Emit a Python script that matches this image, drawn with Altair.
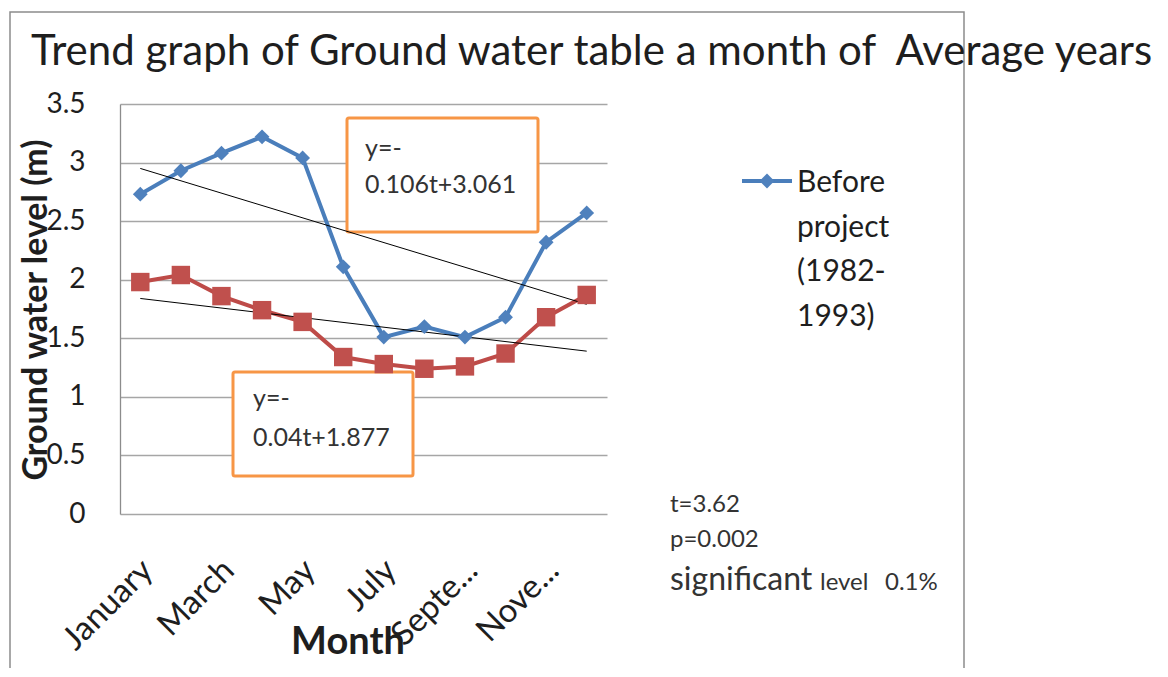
import altair as alt
import pandas as pd

# ---------------- data ----------------
months = ["January", "February", "March", "April", "May", "June",
          "July", "August", "September", "October", "November", "December"]
tick_labels = ["January", "", "March", "", "May", "", "July", "", "Septe...", "", "Nove...", ""]
before = [2.73, 2.93, 3.08, 3.22, 3.04, 2.11, 1.51, 1.60, 1.51, 1.68, 2.32, 2.57]
after = [1.98, 2.04, 1.86, 1.74, 1.64, 1.34, 1.28, 1.24, 1.26, 1.37, 1.68, 1.87]
trend_months = ["January", "December"]
trend_before = [2.95, 1.79]
trend_after = [1.84, 1.39]
y_ticks = [0, 0.5, 1, 1.5, 2, 2.5, 3, 3.5]

title_text = "Trend graph of Ground water table a month of \u00a0Average years"
legend_lines = ["Before", "project", "(1982-", "1993)"]
eq_before = ["y=-", "0.106t+3.061"]
eq_after = ["y=-", "0.04t+1.877"]
stats = ["t=3.62", "p=0.002"]
sig_main, sig_level, sig_value = "significant", "level", "0.1%"

FONT = "Lato"
BLUE_LINE, BLUE_MARK = "#4A7EBB", "#4F81BD"
RED_LINE, RED_MARK = "#BE4B48", "#C0504D"
ORANGE = "#F79646"
TXT = "#1e1e1e"

W, H = 487, 410

blue_df = pd.DataFrame({"month": months, "value": before})
red_df = pd.DataFrame({"month": months, "value": after})
tb_df = pd.DataFrame({"month": trend_months, "value": trend_before})
ta_df = pd.DataFrame({"month": trend_months, "value": trend_after})

label_expr = " : ".join(
    f"datum.value == '{m}' ? '{l}'" for m, l in zip(months, tick_labels)
) + " : ''"

x_enc = alt.X(
    "month:N",
    sort=months,
    scale=alt.Scale(type="point", domain=months, padding=0.5),
    axis=alt.Axis(
        title=None, domain=False, ticks=False, grid=False,
        labelAngle=-45, labelAlign="right", labelBaseline="middle",
        labelPadding=51, labelOffset=7, labelFont=FONT, labelFontSize=33,
        labelColor=TXT, labelExpr=label_expr, labelOverlap=False,
    ),
)
y_enc = alt.Y(
    "value:Q",
    scale=alt.Scale(domain=[0, 3.5], nice=False, zero=True),
    axis=alt.Axis(
        title=None, values=y_ticks, format="~g", grid=True,
        gridColor="#a6a6a6", gridWidth=1.3, domain=True, domainColor="#8c8c8c",
        domainWidth=1.3, ticks=False, labelPadding=35, labelFont=FONT,
        labelFontSize=28, labelColor=TXT,
    ),
)

one = pd.DataFrame({"k": [0]})


def txt(text, x, y, size, align="left", baseline="alphabetic", bold=False,
        angle=0, line_height=None, color=TXT):
    kw = dict(font=FONT, fontSize=size, align=align, baseline=baseline,
              color=color, fontWeight="bold" if bold else "normal")
    if angle:
        kw["angle"] = angle
    if line_height:
        kw["lineHeight"] = line_height
    return alt.Chart(one).mark_text(**kw).encode(
        x=alt.value(x), y=alt.value(y), text=alt.value(text)
    )


# frame around the whole chart
frame = alt.Chart(one).mark_rect(
    fillOpacity=0, stroke="#8c8c8c", strokeWidth=1.5
).encode(x=alt.value(-110), x2=alt.value(844), y=alt.value(-92), y2=alt.value(640))

# equation boxes
box1 = alt.Chart(one).mark_rect(
    fill="white", stroke=ORANGE, strokeWidth=3, cornerRadius=2
).encode(x=alt.value(227), x2=alt.value(418), y=alt.value(14), y2=alt.value(128))
box2 = alt.Chart(one).mark_rect(
    fill="white", stroke=ORANGE, strokeWidth=3, cornerRadius=2
).encode(x=alt.value(113), x2=alt.value(293), y=alt.value(268), y2=alt.value(372))

blue_line = alt.Chart(blue_df).mark_line(color=BLUE_LINE, strokeWidth=4).encode(x=x_enc, y=y_enc)
blue_pts = alt.Chart(blue_df).mark_point(
    shape="diamond", filled=True, size=220, color=BLUE_MARK, opacity=1
).encode(x=x_enc, y=y_enc)
red_line = alt.Chart(red_df).mark_line(color=RED_LINE, strokeWidth=4).encode(x=x_enc, y=y_enc)
red_pts = alt.Chart(red_df).mark_point(
    shape="square", filled=True, size=340, color=RED_MARK, opacity=1
).encode(x=x_enc, y=y_enc)
tb_line = alt.Chart(tb_df).mark_line(color="black", strokeWidth=1).encode(x=x_enc, y=y_enc)
ta_line = alt.Chart(ta_df).mark_line(color="black", strokeWidth=1).encode(x=x_enc, y=y_enc)

# legend (only the first series is visible in the reference)
leg_rule = alt.Chart(one).mark_rule(color=BLUE_LINE, strokeWidth=4).encode(
    x=alt.value(622), x2=alt.value(672), y=alt.value(77)
)
leg_pt = alt.Chart(one).mark_point(
    shape="diamond", filled=True, size=220, color=BLUE_MARK, opacity=1
).encode(x=alt.value(647), y=alt.value(77))
leg_txt = txt(legend_lines, 677, 88, 30, line_height=44.5)

texts = [
    txt(title_text, -89, -39, 42),
    txt("Ground water level (m)", -73, 206, 34, align="center", bold=True, angle=270),
    txt("Month", 228, 550, 38, align="center", bold=True),
    txt(eq_before, 245, 53, 25, line_height=36, color="#333333"),
    txt(eq_after, 133, 303, 25, line_height=39, color="#333333"),
    txt(stats, 550, 408, 24, line_height=35, color="#333333"),
    txt(sig_main, 550, 486, 32, color="#333333"),
    txt(sig_level, 700, 486, 24, color="#333333"),
    txt(sig_value, 765, 486, 24, color="#333333"),
]

chart = alt.layer(
    frame, box1, box2,
    blue_line, red_line, tb_line, ta_line, blue_pts, red_pts,
    leg_rule, leg_pt, leg_txt, *texts,
).properties(
    width=W, height=H,
    autosize=alt.AutoSizeParams(type="none"),
    padding={"left": 112, "top": 96, "right": 553, "bottom": 154},
    background="white",
).configure_view(strokeWidth=0)

chart.save("out.html", embed_options={"renderer": "svg", "actions": False})
